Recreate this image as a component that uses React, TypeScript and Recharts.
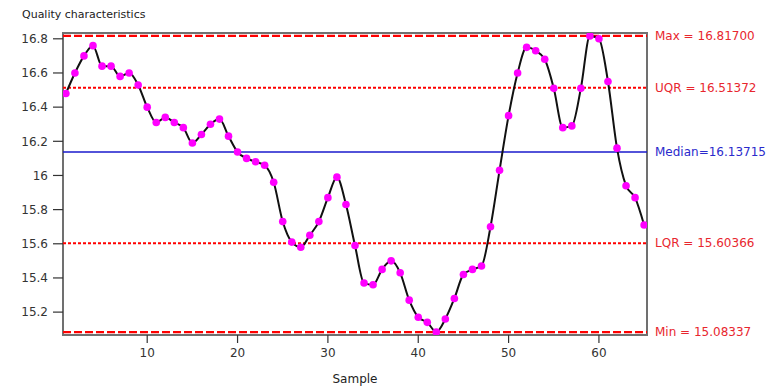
import { LineChart, Line, XAxis, YAxis, ReferenceLine, ReferenceArea } from 'recharts';

const samples = [
  1, 2, 3, 4, 5, 6, 7, 8, 9, 10, 11, 12, 13, 14, 15, 16, 17, 18, 19, 20,
  21, 22, 23, 24, 25, 26, 27, 28, 29, 30, 31, 32, 33, 34, 35, 36, 37, 38, 39, 40,
  41, 42, 43, 44, 45, 46, 47, 48, 49, 50, 51, 52, 53, 54, 55, 56, 57, 58, 59, 60,
  61, 62, 63, 64, 65,
];

const quality = [
  16.48, 16.6, 16.7, 16.76, 16.64, 16.64, 16.58, 16.6, 16.53, 16.4,
  16.31, 16.34, 16.31, 16.28, 16.19, 16.24, 16.3, 16.33, 16.23, 16.13715,
  16.1, 16.08, 16.06, 15.96, 15.73, 15.61, 15.58, 15.65, 15.73, 15.87,
  15.99, 15.83, 15.59, 15.37, 15.36, 15.45, 15.5, 15.43, 15.27, 15.17,
  15.14, 15.08337, 15.16, 15.28, 15.42, 15.45, 15.47, 15.7, 16.03, 16.35,
  16.6, 16.75, 16.73, 16.68, 16.51, 16.28, 16.29, 16.51, 16.817, 16.8,
  16.55, 16.16, 15.94, 15.87, 15.71,
];

const xTicks = [10, 20, 30, 40, 50, 60];
const yTicks = [15.2, 15.4, 15.6, 15.8, 16, 16.2, 16.4, 16.6, 16.8];

const limitNames = ['Max = ', 'UQR = ', 'Median=', 'LQR = ', 'Min = '];
const limitValues = [16.817, 16.51372, 16.13715, 15.60366, 15.08337];

const data = samples.map((s, i) => ({ sample: s, value: quality[i] }));

const X_DOMAIN = [0.68, 65.32];
const Y_DOMAIN = [15.066, 16.834];

// line look for each limit, same order as limitNames
const limitStyles = [
  { stroke: '#ff0000', dash: '8 3', width: 2.2 },
  { stroke: '#ff0000', dash: '3 2', width: 2 },
  { stroke: '#1a1acc', dash: undefined, width: 1.6 },
  { stroke: '#ff0000', dash: '3 2', width: 2 },
  { stroke: '#ff0000', dash: '8 3', width: 2.2 },
];

export default function App() {
  const font = "'DejaVu Sans', sans-serif";
  return (
    <div style={{ position: 'absolute', left: 0, top: 0, width: 771, height: 386, background: '#fff', fontFamily: font }}>
      <div style={{ position: 'absolute', left: 22, top: 8, fontSize: 11, lineHeight: '13px', color: '#222' }}>
        Quality characteristics
      </div>
      <LineChart width={771} height={386} data={data} margin={{ top: 33, right: 124, bottom: 0, left: 0 }}>
        <XAxis
          dataKey="sample"
          type="number"
          domain={X_DOMAIN}
          allowDataOverflow
          ticks={xTicks}
          axisLine={false}
          tickLine={{ stroke: '#333', strokeWidth: 1.2 }}
          tickSize={8}
          tickMargin={5}
          height={51}
          tick={{ fontSize: 12, fill: '#333', fontFamily: font }}
          label={{ value: 'Sample', position: 'insideBottom', offset: 3, fontSize: 12, fill: '#222', fontFamily: font }}
        />
        <YAxis
          type="number"
          domain={Y_DOMAIN}
          allowDataOverflow
          ticks={yTicks}
          axisLine={false}
          tickLine={{ stroke: '#333', strokeWidth: 1.2 }}
          tickSize={10}
          tickMargin={5}
          width={63}
          tick={{ fontSize: 12, fill: '#333', fontFamily: font }}
        />
        <ReferenceArea
          x1={X_DOMAIN[0]}
          x2={X_DOMAIN[1]}
          y1={Y_DOMAIN[0]}
          y2={Y_DOMAIN[1]}
          fill="none"
          stroke="#707070"
          strokeWidth={2}
          fillOpacity={0}
        />
        {limitValues.map((v, i) => (
          <ReferenceLine
            key={limitNames[i]}
            y={v}
            stroke={limitStyles[i].stroke}
            strokeDasharray={limitStyles[i].dash}
            strokeWidth={limitStyles[i].width}
            label={{
              value: limitNames[i] + v.toFixed(5),
              position: 'right',
              offset: 8,
              fontSize: 12,
              fill: limitStyles[i].stroke === '#ff0000' ? '#e8262e' : '#2a2acc',
              fontFamily: font,
            }}
          />
        ))}
        <Line
          type="monotone"
          dataKey="value"
          stroke="#111"
          strokeWidth={2}
          dot={{ r: 3.8, fill: '#ff00ff', stroke: 'none' }}
          activeDot={false}
          isAnimationActive={false}
        />
      </LineChart>
    </div>
  );
}
